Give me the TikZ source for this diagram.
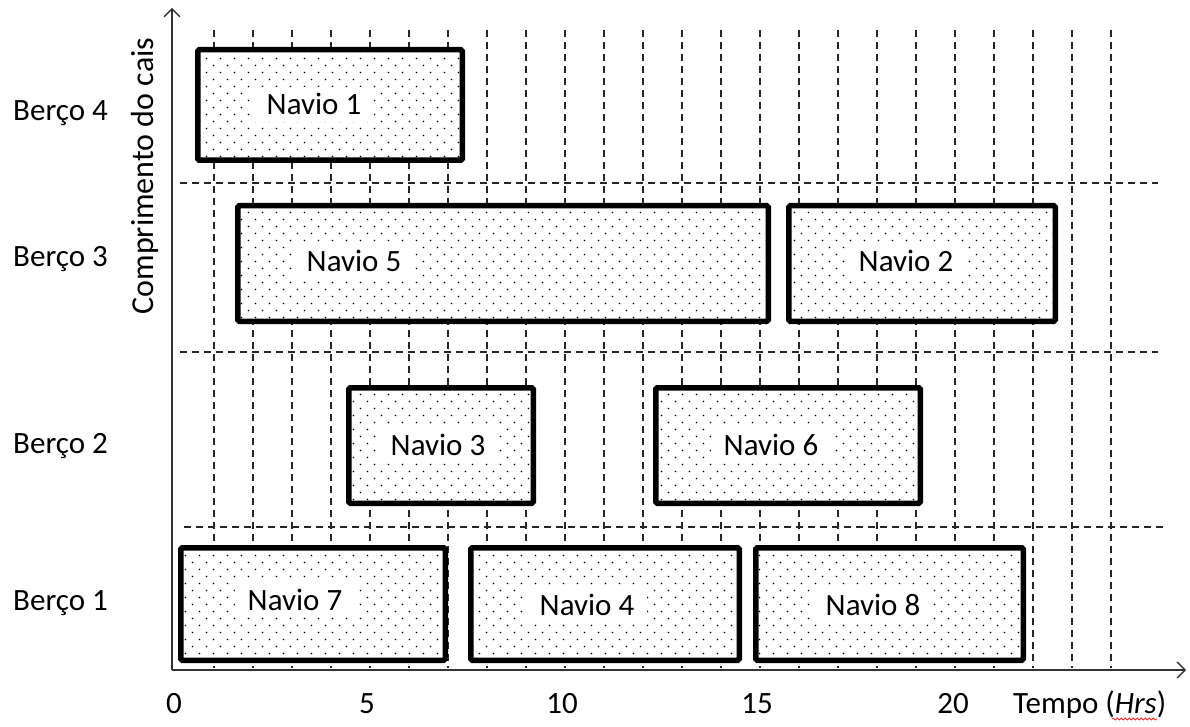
\documentclass[tikz,border=0pt]{standalone}
\usepackage{fontspec}
\setmainfont{Carlito}
\usetikzlibrary{patterns,arrows.meta,decorations.pathmorphing}

% staggered dot texture for the ship blocks
\pgfdeclarepatternformonly{shipdots}{\pgfqpoint{-1pt}{-1pt}}{\pgfqpoint{15pt}{15pt}}{\pgfqpoint{14pt}{14pt}}{%
  \pgfpathcircle{\pgfqpoint{3.5pt}{3.5pt}}{0.95pt}%
  \pgfpathcircle{\pgfqpoint{10.5pt}{10.5pt}}{0.95pt}%
  \pgfusepath{fill}}

\begin{document}
\begin{tikzpicture}[x=1pt,y=-1pt,
  txt/.style={font=\fontsize{31}{36}\selectfont, text=black, inner sep=0pt},
  ship/.style={draw=black, line width=5.5pt, rounded corners=1.5pt,
    preaction={fill=white}, pattern=shipdots, pattern color=black, inner sep=0pt},
  shiplabel/.style={txt, fill=white, inner xsep=13pt, inner ysep=7pt, anchor=base},
  gridline/.style={draw=black!85, line width=1.3pt, dash pattern=on 7pt off 5pt},
  axisline/.style={draw=black!80, line width=1.3pt,
    -{Straight Barb[length=8pt,width=16pt,line width=1.3pt]}}]

\useasboundingbox (0,0) rectangle (1190,727);

% time grid
\foreach \k in {1,...,24}
  \draw[gridline] ({175+39*\k},30) -- ({175+39*\k},668);
\draw[gridline] (180,183) -- (1158,183);
\draw[gridline] (180,352) -- (1158,352);
\draw[gridline] (184,527) -- (1163,527);

% axes
\coordinate (O) at (172,670);
\coordinate (xend) at (1186,670);
\coordinate (yend) at (172,8);
\draw[axisline] (O) -- (xend);
\draw[axisline] (O) -- (yend);

% ship blocks
\node[ship, minimum width=264.5pt, minimum height=110.5pt] (s1) at (330,105) {};
\node[ship, minimum width=530.5pt, minimum height=115.5pt] (s5) at (503,263.5) {};
\node[ship, minimum width=266.5pt, minimum height=115.5pt] (s2) at (922,263.5) {};
\node[ship, minimum width=184.5pt, minimum height=115.5pt] (s3) at (441,445.5) {};
\node[ship, minimum width=264.5pt, minimum height=115.5pt] (s6) at (788,445.5) {};
\node[ship, minimum width=264.5pt, minimum height=112.5pt] (s7) at (313,604) {};
\node[ship, minimum width=268.5pt, minimum height=112.5pt] (s4) at (605,604) {};
\node[ship, minimum width=267.5pt, minimum height=112.5pt] (s8) at (889.5,604) {};

% ship names
\node[shiplabel] (l1) at (314,115) {Navio 1};
\node[shiplabel] (l5) at (354,271) {Navio 5};
\node[shiplabel] (l2) at (906,271) {Navio 2};
\node[shiplabel] (l3) at (438,455) {Navio 3};
\node[shiplabel] (l6) at (771,455) {Navio 6};
\node[shiplabel] (l7) at (295,610) {Navio 7};
\node[shiplabel] (l4) at (587,615) {Navio 4};
\node[shiplabel] (l8) at (873,615) {Navio 8};

% berth names
\node[txt, anchor=base west] (b4) at (13,121) {Berço 4};
\node[txt, anchor=base west] (b3) at (13,266) {Berço 3};
\node[txt, anchor=base west] (b2) at (13,453) {Berço 2};
\node[txt, anchor=base west] (b1) at (13,610) {Berço 1};

% axis titles
\node[txt, font=\fontsize{32}{36}\selectfont, rotate=90, anchor=base] (ytitle) at (153,176) {Comprimento do cais};
\node[txt, anchor=base west] (xtitle) at (1013,713) {Tempo (\textit{Hrs})};
\coordinate (sqA) at (1112,719);
\coordinate (sqB) at (1157,719);
\draw[red!85, line width=0.8pt, decorate, decoration={snake, amplitude=1pt, segment length=4pt}] (sqA) -- (sqB);

% time ticks
\node[txt, anchor=base] (t0) at (174,713) {0};
\node[txt, anchor=base] (t5) at (367,713) {5};
\node[txt, anchor=base] (t10) at (562,713) {10};
\node[txt, anchor=base] (t15) at (757,713) {15};
\node[txt, anchor=base] (t20) at (953,713) {20};

\end{tikzpicture}
\end{document}
